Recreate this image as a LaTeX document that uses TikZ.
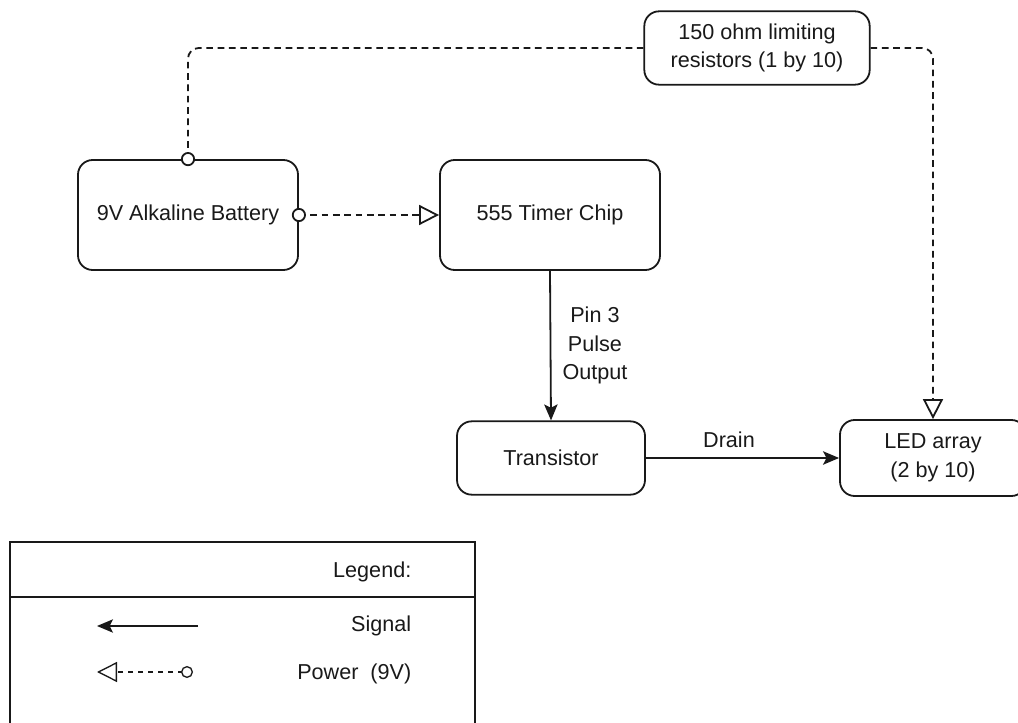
\documentclass[tikz,border=0pt]{standalone}
\usepackage{fontspec}
\setmainfont{Liberation Sans}
\usepackage{xcolor}
\usetikzlibrary{arrows.meta}
\definecolor{ink}{RGB}{25,25,25}
\tikzset{
  block/.style={draw=ink, rounded corners=11pt, line width=1.35pt, align=center, text=ink},
  power/.style={draw=ink, dash pattern=on 5pt off 3.5pt, line width=1.35pt, rounded corners=8pt,
    -{Triangle[open,length=15pt,width=15pt]}},
  signal/.style={draw=ink, line width=1.35pt, -{Stealth[length=12pt,width=10pt,inset=2.5pt]}},
  plug/.style={draw=ink, fill=white, line width=1.35pt}
}

\begin{document}
\begin{tikzpicture}[x=0.75pt, y=-0.75pt, font=\fontsize{16.2}{21.5}\selectfont]
    \useasboundingbox (0,0) rectangle (1018,723);
    % blocks
    \node[block, minimum width=165pt, minimum height=82.5pt] (bat) at (188,215) {9V Alkaline Battery};
    \node[block, minimum width=165pt, minimum height=82.5pt] (timer) at (550,215) {555 Timer Chip};
    \node[block, minimum width=141pt, minimum height=55pt] (trans) at (551,458) {Transistor};
    \node[block, minimum width=139.5pt, minimum height=57pt] (led) at (933,458) {LED array\\(2 by 10)};
    \node[block, minimum width=169pt, minimum height=55pt] (res) at (757,48) {150 ohm limiting\\resistors (1 by 10)};
    % power lines
    \draw[power, -] (bat.north) |- (res.west);
    \draw[power] (res.east) -| (led.north);
    \draw[power] (bat.east) -- (timer.west);
    \foreach \p in {bat.north,bat.east} \draw[plug] (\p) circle (4.6pt);
    % signal lines
    \draw[signal] (timer.south) -- node[right=5pt, text=ink, align=center] {Pin 3\\Pulse\\Output} (trans.north);
    \draw[signal] (trans.east) -- node[above=4pt, pos=0.43, text=ink] {Drain} (led.west);
    % legend
    \draw[draw=ink, line width=1.9pt] (10,740) -- (10,542) -- (475,542) -- (475,740);
    \draw[draw=ink, line width=1.9pt] (10,597) -- (475,597);
    \node[anchor=east, text=ink] (legtitle) at (416,572) {Legend:};
    \node[anchor=east, text=ink] (legsig) at (416,626) {Signal};
    \node[anchor=east, text=ink] (legpow) at (416,674) {Power~~(9V)};
    \coordinate (sigA) at (198,626); \coordinate (sigB) at (97,626);
    \draw[signal, line width=1.1pt] (sigA) -- (sigB);
    \coordinate (powA) at (183,672); \coordinate (powB) at (97,672);
    \draw[power, line width=1pt, dash pattern=on 4pt off 3.5pt] (powA) -- (powB);
    \draw[plug, line width=1pt] (187,672) circle (4pt);
\end{tikzpicture}
\end{document}
